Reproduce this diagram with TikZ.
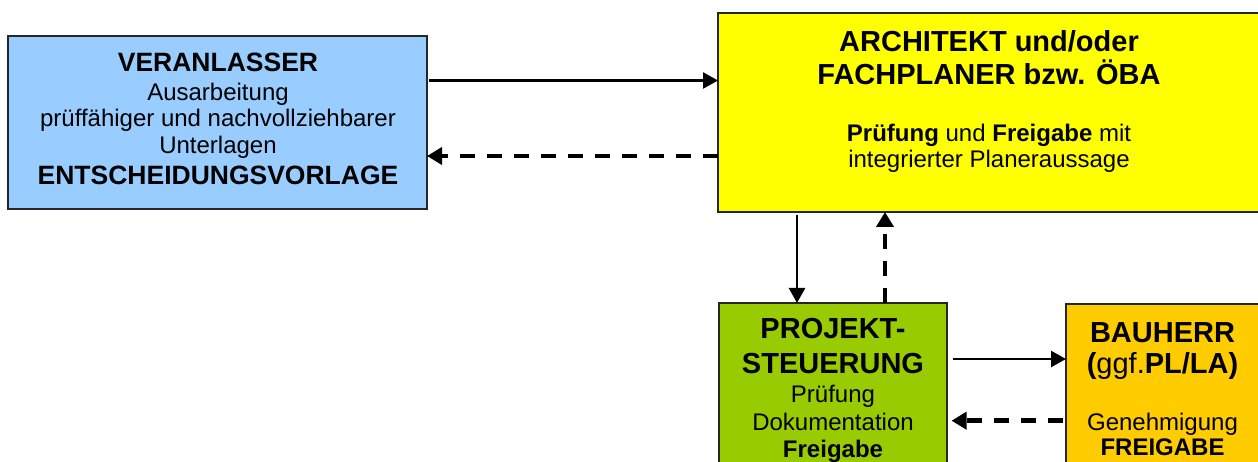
\documentclass[tikz,border=0pt]{standalone}
\usepackage{fontspec}
\setmainfont{Liberation Sans}
\usetikzlibrary{arrows.meta}

\definecolor{vblue}{HTML}{99CCFF}
\definecolor{ayellow}{HTML}{FFFF00}
\definecolor{pgreen}{HTML}{99CC00}
\definecolor{borange}{HTML}{FFCC00}

\tikzset{
  box/.style={rectangle, draw=black!85, line width=1.3pt, inner sep=0pt, outer sep=0pt},
  txt/.style={anchor=base, inner sep=0pt, outer sep=0pt, text=black},
  body/.style={txt, font=\fontsize{24}{28}\selectfont},
  bodybf/.style={txt, font=\fontsize{24}{28}\selectfont\bfseries},
  subhead/.style={txt, font=\fontsize{26.5}{30}\selectfont\bfseries},
  head/.style={txt, font=\fontsize{29}{33}\selectfont\bfseries},
  flow/.style={line width=2.4pt, -{Triangle[length=15pt,width=16pt]}},
  back/.style={line width=4.5pt, dash pattern=on 15pt off 12pt, -{Triangle[length=15pt,width=17pt]}},
}

\begin{document}
\begin{tikzpicture}[x=1pt,y=-1pt]
\useasboundingbox (0,0) rectangle (1258,462);
\clip (0,0) rectangle (1258,462);

% boxes
\node[box, fill=vblue,   minimum width=419pt, minimum height=173pt] (ver)  at (217.5,122.5) {};
\node[box, fill=ayellow, minimum width=542pt, minimum height=199pt] (arch) at (989,112.5) {};
\node[box, fill=pgreen,  minimum width=228pt, minimum height=197pt] (ps)   at (833,401.5) {};
\node[box, fill=borange, minimum width=194pt, minimum height=196pt] (bh)   at (1163,402) {};

% Veranlasser
\node[subhead] (verA) at (218,72)    {VERANLASSER};
\node[body]    (verB) at (218,101)   {Ausarbeitung};
\node[body]    (verC) at (218,127)   {prüffähiger und nachvollziehbarer};
\node[body]    (verD) at (218,153.5) {Unterlagen};
\node[subhead] (verE) at (218,185)   {ENTSCHEIDUNGSVORLAGE};

% Architekt / Fachplaner
\node[head] (archA) at (989,52)    {ARCHITEKT und/oder};
\node[head] (archB) at (989,85)    {FACHPLANER bzw. ÖBA};
\node[body] (archC) at (989,141.5) {\textbf{Prüfung} und \textbf{Freigabe} mit};
\node[body] (archD) at (989,168)   {integrierter Planeraussage};

% Projektsteuerung
\node[head]   (psA) at (833,338) {PROJEKT-};
\node[head]   (psB) at (833,373) {STEUERUNG};
\node[body]   (psC) at (833,402) {Prüfung};
\node[body]   (psD) at (833,430) {Dokumentation};
\node[bodybf] (psE) at (833,457) {Freigabe};

% Bauherr
\node[head]   (bhA) at (1162.5,342) {BAUHERR};
\node[head]   (bhB) at (1162.5,373) {({\mdseries ggf.}PL/LA)};
\node[body]   (bhC) at (1162.5,430) {Genehmigung};
\node[bodybf] (bhD) at (1162.5,455) {FREIGABE};

% connectors
\draw[flow, shorten <=2pt] ([yshift=42pt]ver.east) -- ([yshift=32pt]arch.west);
\draw[back] ([yshift=-43.5pt]arch.west) -- ([yshift=-33.5pt]ver.east);
\draw[flow, shorten <=3pt] ([xshift=-192pt]arch.south) -- ([xshift=-36pt]ps.north);
\draw[back] ([xshift=52pt]ps.north) -- ([xshift=-104pt]arch.south);
\draw[flow, shorten <=5.5pt] ([yshift=42.5pt]ps.east) -- ([yshift=43pt]bh.west);
\draw[back, shorten <=3pt, shorten >=4.5pt] ([yshift=-18.7pt]bh.west) -- ([yshift=-19.2pt]ps.east);
\end{tikzpicture}
\end{document}
